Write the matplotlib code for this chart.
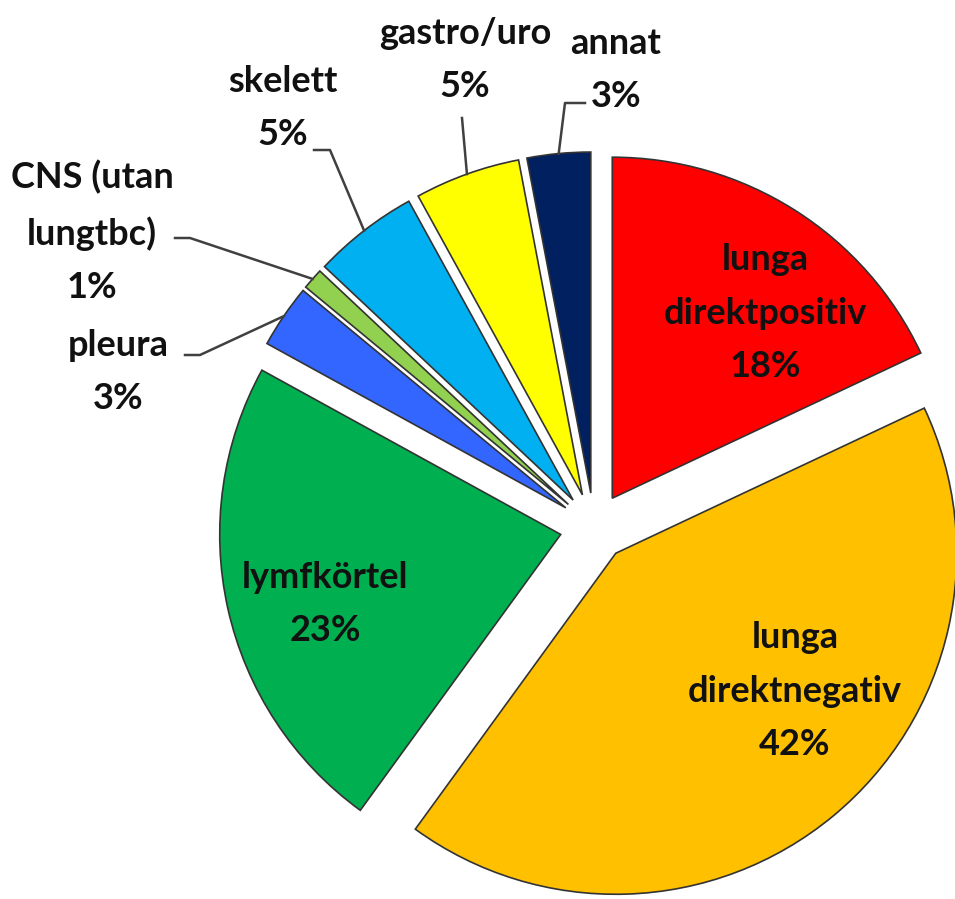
import numpy as np
import matplotlib.pyplot as plt

# data (percent)
categories = ['lunga\ndirektpositiv', 'lunga\ndirektnegativ', 'lymfkörtel', 'pleura',
              'CNS (utan\nlungtbc)', 'skelett', 'gastro/uro', 'annat']
values = [18, 42, 23, 3, 1, 5, 5, 3]
colors = ['#FF0000', '#FFC000', '#00B050', '#3366FF',
          '#92D050', '#00B0F0', '#FFFF00', '#002060']

plt.rcParams['font.family'] = ['Lato', 'DejaVu Sans']

W, H = 955, 899
CX, CY, R = 594, 527, 341


def px(x, y):
    # pixel position in the picture -> data coordinates
    return (x - CX) / R, (CY - y) / R


fig = plt.figure(figsize=(W / 100, H / 100), dpi=100)
ax = fig.add_axes([0, 0, 1, 1])

wedges, _ = ax.pie(values, colors=colors, startangle=90, counterclock=False,
                   explode=[0.1] * len(values), radius=1,
                   wedgeprops=dict(edgecolor='#333333', linewidth=1.2))

x0, y0 = px(0, H)
x1, y1 = px(W, 0)
ax.set_xlim(x0, x1)
ax.set_ylim(y0, y1)
ax.set_aspect('equal')
ax.axis('off')

# label text positions (pixels) and leader elbows
inside = {0: (765, 313), 1: (795, 691), 2: (325, 604)}
outside = {3: (118, 372, (200, 355), (185, 355)),
           4: (92, 232, (190, 238), (175, 238)),
           5: (283, 108, (330, 150), (314, 150)),
           6: (465, 60, (462, 118), None),
           7: (616, 70, (565, 103), (585, 103))}

for i, w in enumerate(wedges):
    text = f'{categories[i]}\n{values[i]}%'
    if i in inside:
        x, y = px(*inside[i])
    else:
        tx, ty, elbow, end = outside[i]
        x, y = px(tx, ty)
        mid = np.deg2rad((w.theta1 + w.theta2) / 2)
        ax_, ay_ = w.center[0] + w.r * np.cos(mid), w.center[1] + w.r * np.sin(mid)
        pts = [(ax_, ay_), px(*elbow)]
        if end is not None:
            pts.append(px(*end))
        xs, ys = zip(*pts)
        ax.plot(xs, ys, color='#404040', lw=1.8)
    ax.text(x, y, text, ha='center', va='center', fontsize=26,
            fontweight='bold', linespacing=1.75, color='#111111')

fig.savefig('out.png', dpi=100, facecolor='white')
